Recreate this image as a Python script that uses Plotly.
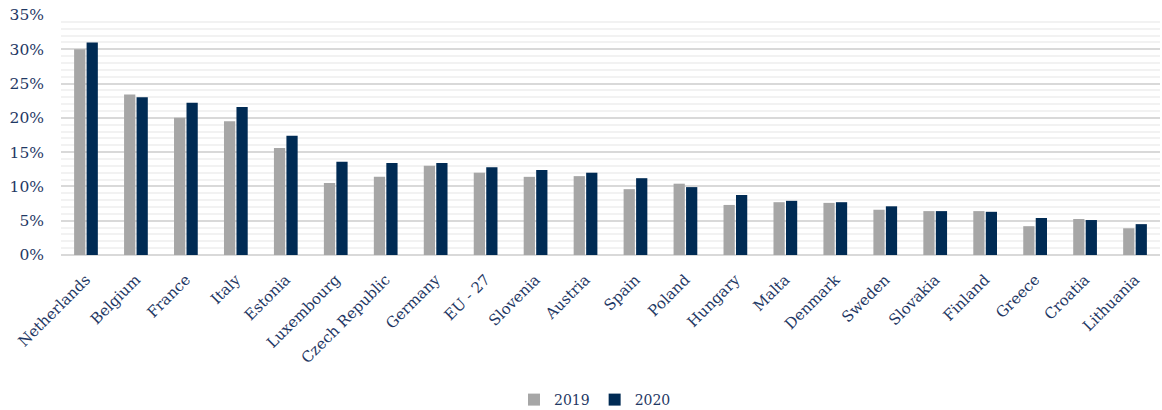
import plotly.graph_objects as go

countries = ["Netherlands", "Belgium", "France", "Italy", "Estonia", "Luxembourg",
             "Czech Republic", "Germany", "EU - 27", "Slovenia", "Austria", "Spain",
             "Poland", "Hungary", "Malta", "Denmark", "Sweden", "Slovakia", "Finland",
             "Greece", "Croatia", "Lithuania"]
v2019 = [30.0, 23.4, 20.0, 19.5, 15.6, 10.5, 11.4, 13.0, 12.0, 11.4, 11.5, 9.6,
         10.4, 7.3, 7.7, 7.6, 6.6, 6.4, 6.4, 4.2, 5.25, 3.9]
v2020 = [31.0, 23.0, 22.2, 21.6, 17.4, 13.6, 13.4, 13.4, 12.8, 12.4, 12.0, 11.2,
         9.9, 8.75, 7.9, 7.7, 7.1, 6.4, 6.3, 5.4, 5.1, 4.5]

font_family = "DejaVu Serif, Liberation Serif, serif"
text_color = "#1F3864"

fig = go.Figure()
fig.add_trace(go.Bar(name="2019", x=countries, y=[v / 100 for v in v2019],
                     marker=dict(color="#A6A6A6", line=dict(width=0))))
fig.add_trace(go.Bar(name="2020", x=countries, y=[v / 100 for v in v2020],
                     marker=dict(color="#002B54", line=dict(width=0))))

fig.update_layout(
    width=1162, height=410,
    margin=dict(l=61, r=2, t=15, b=155, autoexpand=False),
    paper_bgcolor="white", plot_bgcolor="white",
    barmode="group", bargap=0.5, bargroupgap=0.1,
    font=dict(family=font_family, color=text_color, size=15),
    showlegend=True,
    legend=dict(orientation="h", xref="container", yref="container",
                x=595 / 1162, xanchor="center", y=10 / 410, yanchor="middle",
                font=dict(size=14, color=text_color), itemwidth=30,
                traceorder="normal"),
)
fig.update_yaxes(
    range=[0, 0.35], dtick=0.05, tickformat=".0%",
    showgrid=True, gridcolor="#D9D9D9", gridwidth=1.5,
    zeroline=True, zerolinecolor="#D9D9D9", zerolinewidth=1.5,
    showline=False, ticks="", ticklabelstandoff=16,
    tickfont=dict(size=15.5, color=text_color),
    minor=dict(dtick=0.01, showgrid=True, gridcolor="#F2F2F2", gridwidth=1.5),
)
fig.update_xaxes(
    tickangle=-45, showgrid=False, showline=False, ticks="",
    ticklabelstandoff=12,
    tickfont=dict(size=15, color=text_color),
)
fig.write_html("out.html")
